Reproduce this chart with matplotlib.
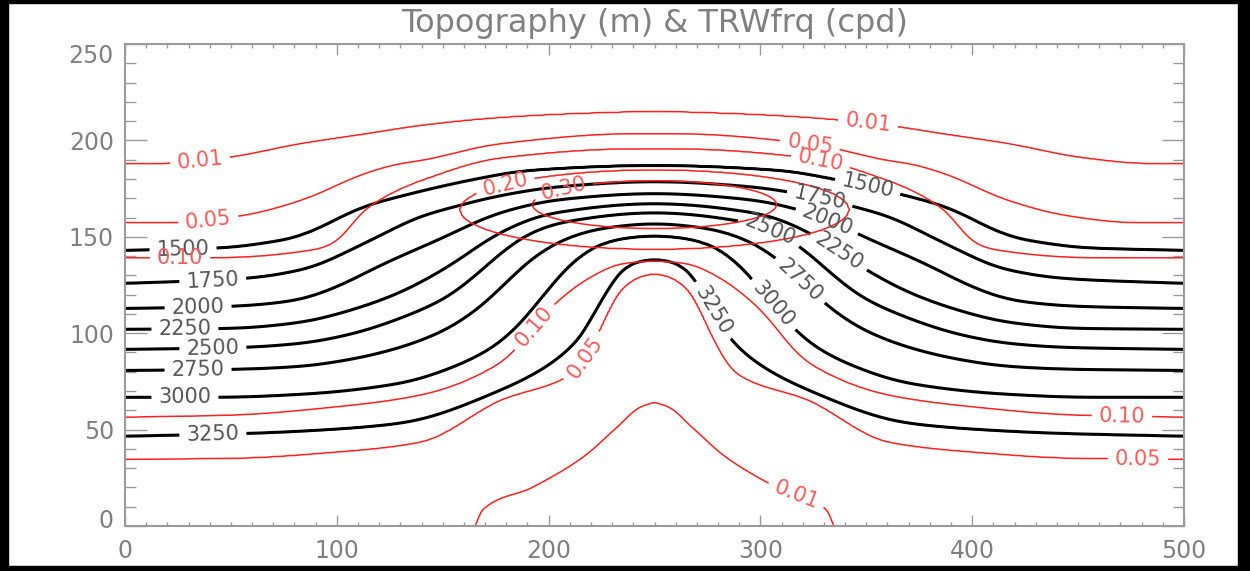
import numpy as np
import matplotlib.pyplot as plt
from matplotlib.patches import Rectangle
from matplotlib.transforms import ScaledTranslation

# Topography (m) contours, traced on the left half (x <= 250) and mirrored about x = 250
topo_levels = [1500, 1750, 2000, 2250, 2500, 2750, 3000, 3250]
topo_x = [
    [0, 48.6, 64.2, 80.3, 95.8, 111.4, 131.3, 166.7, 190.3, 250],
    [0, 56.7, 87.8, 103.9, 119.5, 139.3, 153.9, 177.1, 205.4, 250],
    [0, 49.6, 80.3, 99.2, 120.4, 149.2, 177.1, 205.4, 250],
    [0, 49.6, 82.6, 106.2, 129.8, 153.4, 177.1, 200.7, 250],
    [0, 54.3, 82.6, 106.2, 129.8, 153.4, 172.3, 186.5, 205.4, 250],
    [0, 51.9, 82.6, 106.2, 129.8, 153.4, 172.3, 186.5, 203.0, 224.3, 250],
    [0, 44.9, 82.6, 129.8, 153.4, 177.1, 191.2, 203.0, 214.8, 229.0, 250],
    [0, 59.0, 82.6, 129.8, 177.1, 205.4, 221.0, 227.6, 236.1, 250],
]
topo_y = [
    [142.9, 144.4, 146.5, 149.6, 156.8, 165.1, 171.3, 180.1, 184.3, 186.9],
    [125.8, 128.4, 134.1, 141.8, 150.1, 160.5, 165.1, 171.3, 176.0, 178.6],
    [112.8, 113.9, 117.0, 123.7, 135.1, 149.1, 162.5, 169.3, 172.4],
    [102.0, 102.5, 105.6, 111.8, 121.1, 135.1, 152.2, 162.0, 167.2],
    [91.6, 92.6, 94.7, 99.4, 107.7, 119.6, 136.6, 149.1, 157.3, 162.5],
    [80.7, 81.3, 82.8, 86.4, 92.6, 103.0, 118.0, 133.5, 146.5, 154.2, 156.8],
    [66.8, 66.8, 68.3, 74.0, 81.8, 95.2, 110.8, 127.3, 140.3, 148.0, 150.6],
    [46.6, 48.1, 49.2, 53.3, 70.4, 87.5, 106.6, 124.7, 135.1, 138.7],
]

# TRW frequency (cpd) contours, upper and lower branches, left half
frq_levels = [0.01, 0.05, 0.10, 0.20, 0.30]
f01_top_x = [0, 16.5, 48.2, 82.6, 114.3, 139.3, 177.1, 214.0, 250]
f01_top_y = [187.9, 187.9, 191.0, 198.2, 203.4, 207.6, 211.7, 213.8, 214.8]
f05_top_x = [0, 23.6, 55.7, 82.6, 114.3, 129.8, 139.3, 177.1, 239.8, 250]
f05_top_y = [157.3, 157.3, 161.0, 168.7, 183.2, 187.9, 189.4, 198.2, 203.4, 203.4]
f10_top_x = [0, 41.5, 92.1, 101.5, 111.0, 121.8, 129.8, 139.3, 177.1, 239.8, 250]
f10_top_y = [139.2, 139.2, 143.9, 149.1, 162.0, 170.3, 174.9, 179.1, 191.0, 195.7, 195.7]
f10_bot_x = [0, 51.0, 98.2, 139.3, 177.1, 202.1, 219.5, 235.1, 250]
f10_bot_y = [56.4, 57.5, 61.6, 67.8, 84.4, 114.4, 128.9, 136.1, 137.2]
f05_bot_x = [0, 51.0, 98.2, 139.3, 177.1, 211.5, 225.7, 230.4, 237.0, 250]
f05_bot_y = [34.7, 35.2, 38.3, 43.5, 65.2, 79.2, 105.1, 117.0, 125.8, 131.0]
f01_bot_x = [0, 150, 163, 165.5, 168.0, 192.6, 216.2, 232.3, 243.2, 250]
f01_bot_y = [-40, -12, -4, 0, 7.5, 20.2, 35.7, 51.2, 61.6, 64.2]
# closed contours: centre x, centre y, half width, half height
ell20 = (250, 164.1, 92.0, 20.7)
ell30 = (250, 166.7, 57.6, 12.4)

# label positions (data coords)
topo_lab = [(27.4, 144.4), (41.5, 125.8), (34.5, 113.4), (28.3, 102.0),
            (41.5, 91.6), (34.5, 80.7), (28.3, 66.8), (41.5, 46.6),
            (350.8, 176.5), (328.1, 170.3), (331.9, 159.4), (339.0, 145.4),
            (304.5, 153.2), (318.7, 127.3), (305.5, 114.4), (281.9, 114.4)]
frq_lab = [(35.4, 189.4), (350.8, 209.1), (316.3, 13.5),
           (39.2, 159.9), (323.4, 198.2), (213.9, 90.1), (478.3, 34.7),
           (26.0, 139.8), (328.1, 188.4), (193.6, 103.0), (470.7, 56.9),
           (179.4, 177.5), (206.8, 175.5)]

xg = np.arange(0, 501, 1.0)
yg = np.arange(0, 250.25, 0.5)
xm = 250 - np.abs(xg - 250)


def pchip(xp, yp, x, flat_end=True):
    # monotone cubic through the traced points
    xp = np.asarray(xp, float)
    yp = np.asarray(yp, float)
    hk = np.diff(xp)
    dk = np.diff(yp) / hk
    m = np.zeros(len(xp))
    for k in range(1, len(xp) - 1):
        if dk[k - 1] * dk[k] > 0:
            w1 = 2 * hk[k] + hk[k - 1]
            w2 = hk[k] + 2 * hk[k - 1]
            m[k] = (w1 + w2) / (w1 / dk[k - 1] + w2 / dk[k])
    m[0] = dk[0]
    m[-1] = 0 if flat_end else dk[-1]
    i = np.clip(np.searchsorted(xp, x) - 1, 0, len(xp) - 2)
    t = (x - xp[i]) / hk[i]
    h00 = 2 * t**3 - 3 * t**2 + 1
    h10 = t**3 - 2 * t**2 + t
    h01 = -2 * t**3 + 3 * t**2
    h11 = t**3 - t**2
    return h00 * yp[i] + h10 * hk[i] * m[i] + h01 * yp[i + 1] + h11 * hk[i] * m[i + 1]


def smooth(v, n):
    if n < 2:
        return v
    vp = np.pad(v, n // 2, mode='edge')
    return np.convolve(vp, np.ones(n) / n, mode='valid')


def trace(tx, ty, n=7, flat_end=True):
    return smooth(pchip(tx, ty, xm, flat_end), n)


def column_field(knots, values):
    out = np.empty((len(yg), len(xg)))
    for j in range(len(xg)):
        yy = np.maximum.accumulate(knots[:, j] + np.arange(len(values)) * 1e-3)
        out[:, j] = np.interp(yg, yy, values)
    return out


# topography field
ky = np.array([trace(tx, ty, 19) for tx, ty in zip(topo_x, topo_y)])[::-1]
ky = np.vstack([ky[0] - 30, ky, ky[-1] + 30])
hv = np.array([3500] + topo_levels[::-1] + [1250], float)
h = column_field(ky, hv)

# frequency field: band between the branches plus the two closed contours
b01 = trace(f01_bot_x, f01_bot_y, 3, flat_end=False)
b05 = trace(f05_bot_x, f05_bot_y, 9)
b10 = trace(f10_bot_x, f10_bot_y, 11)
t10 = trace(f10_top_x, f10_top_y, 11)
t05 = trace(f05_top_x, f05_top_y, 13)
t01 = trace(f01_top_x, f01_top_y, 15)
kf = np.vstack([b01 - 15, b01, b05, b10, 0.5 * (b10 + t10), t10, t05, t01, t01 + 30])
fv = np.array([0, 0.01, 0.05, 0.10, 0.15, 0.10, 0.05, 0.01, 0])
f = column_field(kf, fv)

X, Y = np.meshgrid(xg, yg)
r20 = np.hypot((X - ell20[0]) / ell20[2], (Y - ell20[1]) / ell20[3])
r30 = np.hypot((X - ell30[0]) / ell30[2], (Y - ell30[1]) / ell30[3])
g20 = 0.20 + np.where(r20 < 1, 0.09, 0.5) * (1 - r20)
g30 = 0.30 + 0.5 * (1 - r30)
f = np.maximum(f, np.maximum(g20, g30))

fig = plt.figure(figsize=(12.5, 5.71), dpi=100)
ax = fig.add_axes([0.1, 0.0788, 0.8472, 0.8441])

cs_h = ax.contour(xg, yg, h, levels=topo_levels, colors='black', linewidths=2.2)
cs_f = ax.contour(xg, yg, f, levels=frq_levels, colors='#ff2020', linewidths=1.1)
ax.clabel(cs_h, fmt='%d', manual=topo_lab, inline=True, inline_spacing=7,
          fontsize=15, colors='#555555')
ax.clabel(cs_f, fmt='%.2f', manual=frq_lab, inline=True, inline_spacing=7,
          fontsize=15, colors='#ff5a5a')

ax.set_xlim(0, 500)
ax.set_ylim(0, 250)
ax.set_xticks(range(0, 501, 100))
ax.set_xticks(range(0, 501, 10), minor=True)
ax.set_yticks(range(0, 251, 50))
ax.set_yticks(range(0, 251, 10), minor=True)
ax.tick_params(which='both', direction='in', top=True, right=True,
               color='#9a9a9a', width=1, labelcolor='#808080', labelsize=17)
ax.tick_params(axis='x', which='major', length=8, pad=9)
ax.tick_params(axis='x', which='minor', length=3)
ax.tick_params(axis='y', which='major', length=16, pad=8)
ax.tick_params(axis='y', which='minor', length=8)
for s in ax.spines.values():
    s.set_color('#9a9a9a')
    s.set_linewidth(1.5)

fig.canvas.draw()
ylabs = ax.get_yticklabels()
ylabs[0].set_transform(ylabs[0].get_transform() + ScaledTranslation(0, 0.08, fig.dpi_scale_trans))
ylabs[-1].set_transform(ylabs[-1].get_transform() + ScaledTranslation(0, -0.09, fig.dpi_scale_trans))

ax.set_title('Topography (m) & TRWfrq (cpd)', fontsize=23, color='#808080', pad=9)

# black frame around the picture
for x0, y0, w, hh in [(0, 0, 8, 571), (1238, 0, 12, 571), (0, 0, 1250, 5), (0, 568, 1250, 3)]:
    fig.patches.append(Rectangle((x0 / 1250, y0 / 571), w / 1250, hh / 571,
                                 transform=fig.transFigure, color='black', zorder=10))

fig.savefig('out.png', dpi=100)
